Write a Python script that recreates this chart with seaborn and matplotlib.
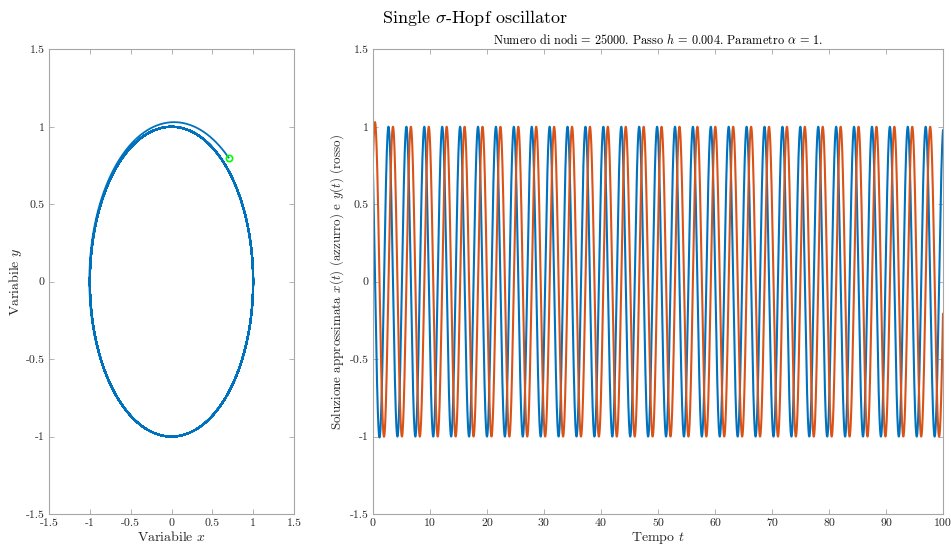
import numpy as np
import pandas as pd
import matplotlib
matplotlib.use("Agg")
import matplotlib.pyplot as plt
import seaborn as sns

# ---- values ----
x_start = 0.7          # initial x (green circle)
y_start = 0.8          # initial y (green circle)
omega = 2.0            # angular frequency (peak spacing ~3.14 in t)
alpha = 1.0            # parameter alpha (title)
h_step = 0.004         # step h (title)
n_nodes = 25000        # number of nodes (title)

ticks_phase = [-1.5, -1, -0.5, 0, 0.5, 1, 1.5]
ticklabels_phase = ["-1.5", "-1", "-0.5", "0", "0.5", "1", "1.5"]
ticks_time = [0, 10, 20, 30, 40, 50, 60, 70, 80, 90, 100]
ticklabels_time = ["0", "10", "20", "30", "40", "50", "60", "70", "80", "90", "100"]


# ---- Heun integration of the Hopf oscillator ----
def rhs(x, y):
    r2 = x * x + y * y
    return alpha * (1 - r2) * x - omega * y, alpha * (1 - r2) * y + omega * x


xs = np.empty(n_nodes + 1)
ys = np.empty(n_nodes + 1)
xs[0], ys[0] = x_start, y_start
for k in range(n_nodes):
    f1x, f1y = rhs(xs[k], ys[k])
    px, py = xs[k] + h_step * f1x, ys[k] + h_step * f1y
    f2x, f2y = rhs(px, py)
    xs[k + 1] = xs[k] + 0.5 * h_step * (f1x + f2x)
    ys[k + 1] = ys[k] + 0.5 * h_step * (f1y + f2y)
ts = np.arange(n_nodes + 1) * h_step
df = pd.DataFrame({"t": ts, "x": xs, "y": ys})

sns.set_theme(style="white")
plt.rcParams["font.family"] = ["cmr10", "DejaVu Serif"]
plt.rcParams["mathtext.fontset"] = "cm"
plt.rcParams["axes.formatter.use_mathtext"] = True

blue = "#0072BD"
orange = "#D95319"
spine_col = "#A6A6A6"
text_col = "#262626"

fig = plt.figure(figsize=(9.51, 5.47), dpi=100)
ax1 = fig.add_axes([49 / 951, 33 / 547, 245 / 951, 464.7 / 547])
ax2 = fig.add_axes([373 / 951, 33 / 547, 570 / 951, 464.7 / 547])

sns.lineplot(data=df, x="x", y="y", sort=False, estimator=None, ax=ax1,
             color=blue, linewidth=1.3)
ax1.plot([x_start], [y_start], marker="o", markersize=4.5, markerfacecolor="none",
         markeredgecolor="#00FF00", markeredgewidth=1.2, linestyle="none")

sns.lineplot(data=df, x="t", y="x", sort=False, estimator=None, ax=ax2,
             color=blue, linewidth=1.5)
sns.lineplot(data=df, x="t", y="y", sort=False, estimator=None, ax=ax2,
             color=orange, linewidth=1.5)

for ax in (ax1, ax2):
    ax.set_ylim(-1.5, 1.5)
    ax.set_yticks(ticks_phase)
    ax.set_yticklabels(ticklabels_phase)
    for s in ax.spines.values():
        s.set_color(spine_col)
        s.set_linewidth(0.8)
    ax.tick_params(direction="in", length=3.5, width=0.6, color=spine_col,
                   labelcolor=text_col, labelsize=8.5, top=True, right=True,
                   bottom=True, left=True, pad=3)
    ax.grid(False)

ax1.set_xlim(-1.5, 1.5)
ax1.set_xticks(ticks_phase)
ax1.set_xticklabels(ticklabels_phase)
ax1.set_xlabel("Variabile $x$", fontsize=10, color=text_col, labelpad=2)
ax1.set_ylabel("Variabile $y$", fontsize=10, color=text_col, labelpad=1)

ax2.set_xlim(0, 100)
ax2.set_xticks(ticks_time)
ax2.set_xticklabels(ticklabels_time)
ax2.set_xlabel("Tempo $t$", fontsize=10, color=text_col, labelpad=2)
ax2.set_ylabel("Soluzione approssimata $x(t)$ (azzurro) e $y(t)$ (rosso)",
               fontsize=9.4, color=text_col, labelpad=3)
ax2.set_title("Numero di nodi = 25000. Passo $h$ = 0.004. Parametro $\\alpha$ = 1.",
              fontsize=8.8, color="black", pad=4)

fig.suptitle("Single $\\sigma$-Hopf oscillator", fontsize=13, x=0.5, y=0.985,
             color="black")

fig.savefig("out.png", dpi=100, facecolor="white")
